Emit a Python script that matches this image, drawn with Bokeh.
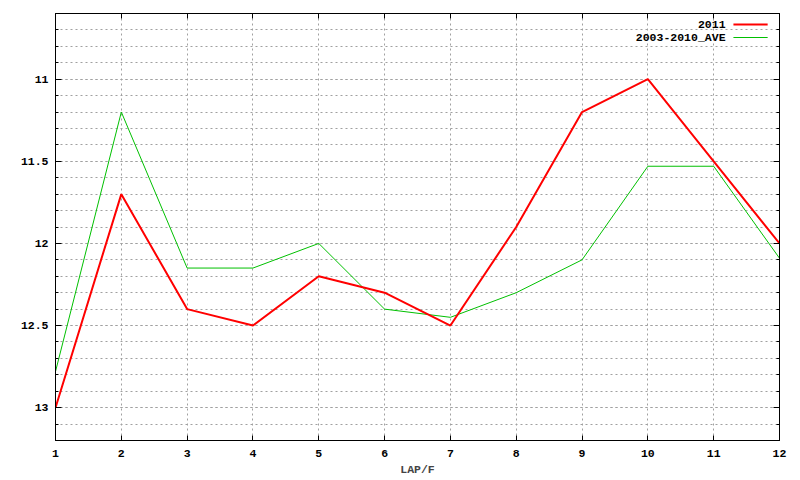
from bokeh.plotting import figure
from bokeh.models import Range1d, FixedTicker, Label, BoxAnnotation, LinearAxis
from bokeh.embed import file_html
from bokeh.resources import INLINE

laps = [1, 2, 3, 4, 5, 6, 7, 8, 9, 10, 11, 12]
y2011 = [13.0, 11.7, 12.4, 12.5, 12.2, 12.3, 12.5, 11.9, 11.2, 11.0, 11.5, 12.0]
ave = [12.78, 11.2, 12.15, 12.15, 12.0, 12.4, 12.45, 12.3, 12.1, 11.53, 11.53, 12.09]
y_major = [11, 11.5, 12, 12.5, 13]
y_labels = {11: "11", 11.5: "11.5", 12: "12", 12.5: "12.5", 13: "13"}
y_minor = [round(10.6 + 0.1 * i, 1) for i in range(27)]
series_names = ["2011", "2003-2010_AVE"]

FONT = "Liberation Mono"
FS = "11.5px"

p = figure(width=800, height=480, output_backend="svg", toolbar_location=None,
           x_range=Range1d(1, 12), y_range=Range1d(13.2, 10.6),
           min_border_left=55, min_border_right=21, min_border_top=13, min_border_bottom=40)
p.background_fill_color = "white"
p.border_fill_color = "white"
p.outline_line_color = "black"
p.outline_line_width = 1

for ax in (p.xaxis[0], p.yaxis[0]):
    ax.axis_line_color = "black"
    ax.major_tick_line_color = "black"
    ax.minor_tick_line_color = "black"
    ax.major_tick_out = 0
    ax.minor_tick_out = 0
    ax.major_label_text_font = FONT
    ax.major_label_text_font_size = FS
    ax.major_label_text_font_style = "bold"
    ax.major_label_text_color = "black"

p.xaxis.ticker = FixedTicker(ticks=laps)
p.xaxis.major_tick_in = 5
p.xaxis.major_label_standoff = 9
p.xaxis.axis_label = "LAP/F"
p.xaxis.axis_label_text_font = FONT
p.xaxis.axis_label_text_font_size = FS
p.xaxis.axis_label_text_font_style = "bold"
p.xaxis.axis_label_standoff = 3

p.yaxis.ticker = FixedTicker(ticks=y_major, minor_ticks=y_minor)
p.yaxis.major_label_overrides = y_labels
p.yaxis.major_tick_in = 6
p.yaxis.minor_tick_in = 3
p.yaxis.major_label_standoff = 7

# mirror axes (ticks only)
top = LinearAxis(ticker=FixedTicker(ticks=laps), major_label_text_font_size="1px",
                 major_label_text_color=None, major_label_standoff=0,
                 major_tick_in=5, major_tick_out=0, minor_tick_in=0, minor_tick_out=0,
                 axis_line_color="black")
right = LinearAxis(ticker=FixedTicker(ticks=y_major, minor_ticks=y_minor),
                   major_label_text_font_size="1px", major_label_text_color=None,
                   major_label_standoff=0,
                   major_tick_in=6, major_tick_out=0, minor_tick_in=3, minor_tick_out=0,
                   axis_line_color="black")
p.add_layout(top, "above")
p.add_layout(right, "right")

p.xgrid.ticker = FixedTicker(ticks=laps)
p.xgrid.grid_line_color = "#a0a0a0"
p.xgrid.grid_line_dash = "2 3"
p.ygrid.ticker = FixedTicker(ticks=y_major, minor_ticks=y_minor)
p.ygrid.grid_line_color = "#a0a0a0"
p.ygrid.grid_line_dash = "2 3"
p.ygrid.minor_grid_line_color = "#a0a0a0"
p.ygrid.minor_grid_line_dash = "2 3"

p.line(laps, ave, line_color="#00c000", line_width=1)
p.line(laps, y2011, line_color="#ff0000", line_width=2)

leg_y = [10.667, 10.746]
for name, ly, col, lw in zip(series_names, leg_y, ["#ff0000", "#00c000"], [2, 1]):
    p.add_layout(Label(x=11.18, y=ly, text=name, text_align="right", text_baseline="middle",
                       text_font=FONT, text_font_size=FS, text_font_style="bold",
                       text_color="black"))
    h = 0.003 * lw
    p.add_layout(BoxAnnotation(left=11.30, right=11.82, top=ly - h, bottom=ly + h,
                               fill_color=col, fill_alpha=1.0, line_alpha=0))

open("out.html", "w").write(file_html(p, INLINE))
